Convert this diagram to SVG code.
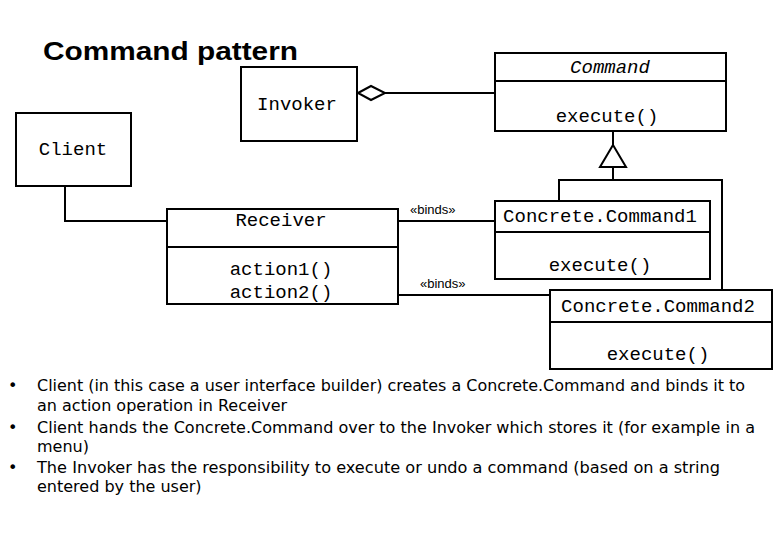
<svg xmlns="http://www.w3.org/2000/svg" width="780" height="540" viewBox="0 0 780 540">
<style>
.b{fill:#fff;stroke:#000;stroke-width:2}
.l{fill:none;stroke:#000;stroke-width:2}
.m{font-family:"Liberation Mono",monospace;font-size:19px;fill:#000;text-anchor:middle}
.s{font-family:"Liberation Sans",sans-serif;font-size:13px;fill:#000}
.t{font-family:"DejaVu Sans",sans-serif;font-size:16px;fill:#000}
</style>
<rect width="780" height="540" fill="#fff"/>
<text x="43" y="60" font-family="Liberation Sans,sans-serif" font-size="25" font-weight="bold" textLength="255" lengthAdjust="spacingAndGlyphs">Command pattern</text>
<g id="connectors">
<polyline class="l" points="65,186 65,221 167,221"/>
<line class="l" x1="385" y1="93" x2="495" y2="93"/>
<polygon class="b" points="358,93 371,86 385,93 371,100"/>
<line class="l" x1="613" y1="131" x2="613" y2="145"/>
<polygon class="b" points="613,145 626,167 600,167"/>
<line class="l" x1="613" y1="167" x2="613" y2="180"/>
<polyline class="l" points="559,201 559,180 722,180 722,290"/>
<line class="l" x1="397" y1="221" x2="495" y2="221"/>
<line class="l" x1="398" y1="295" x2="550" y2="295"/>
<text class="s" x="410" y="214">«binds»</text>
<text class="s" x="420" y="288">«binds»</text>
</g>
<g id="command"><rect class="b" x="495" y="53" width="231" height="78"/><line class="l" x1="495" y1="81" x2="726" y2="81"/>
<text class="m" x="610" y="73" font-style="italic" font-size="17">Command</text><text class="m" x="607" y="122">execute()</text></g>
<g id="invoker"><rect class="b" x="241" y="67" width="116" height="74"/><text class="m" x="297" y="110">Invoker</text></g>
<g id="client"><rect class="b" x="16" y="113" width="115" height="73"/><text class="m" x="73" y="155">Client</text></g>
<g id="receiver"><rect class="b" x="167" y="209" width="231" height="95"/><line class="l" x1="167" y1="247" x2="398" y2="247"/>
<text class="m" x="281" y="226">Receiver</text><text class="m" x="281" y="275">action1()</text><text class="m" x="281" y="298">action2()</text></g>
<g id="cc1"><rect class="b" x="495" y="201" width="215" height="78"/><line class="l" x1="495" y1="232" x2="710" y2="232"/>
<text class="m" x="600" y="222">Concrete.Command1</text><text class="m" x="600" y="271">execute()</text></g>
<g id="cc2"><rect class="b" x="550" y="290" width="222" height="79"/><line class="l" x1="550" y1="322" x2="772" y2="322"/>
<text class="m" x="658" y="312">Concrete.Command2</text><text class="m" x="658" y="360">execute()</text></g>
<g id="notes">
<text class="t" x="8" y="391" font-size="11">•</text><text class="t" x="37" y="391" textLength="708" lengthAdjust="spacingAndGlyphs">Client (in this case a user interface builder) creates a Concrete.Command and binds it to</text>
<text class="t" x="37" y="411">an action operation in Receiver</text>
<text class="t" x="8" y="433" font-size="11">•</text><text class="t" x="37" y="433" textLength="718" lengthAdjust="spacingAndGlyphs">Client hands the Concrete.Command over to the Invoker which stores it (for example in a</text>
<text class="t" x="37" y="452">menu)</text>
<text class="t" x="8" y="473" font-size="11">•</text><text class="t" x="37" y="473" textLength="683" lengthAdjust="spacingAndGlyphs">The Invoker has the responsibility to execute or undo a command (based on a string</text>
<text class="t" x="37" y="492">entered by the user)</text>
</g>
</svg>
